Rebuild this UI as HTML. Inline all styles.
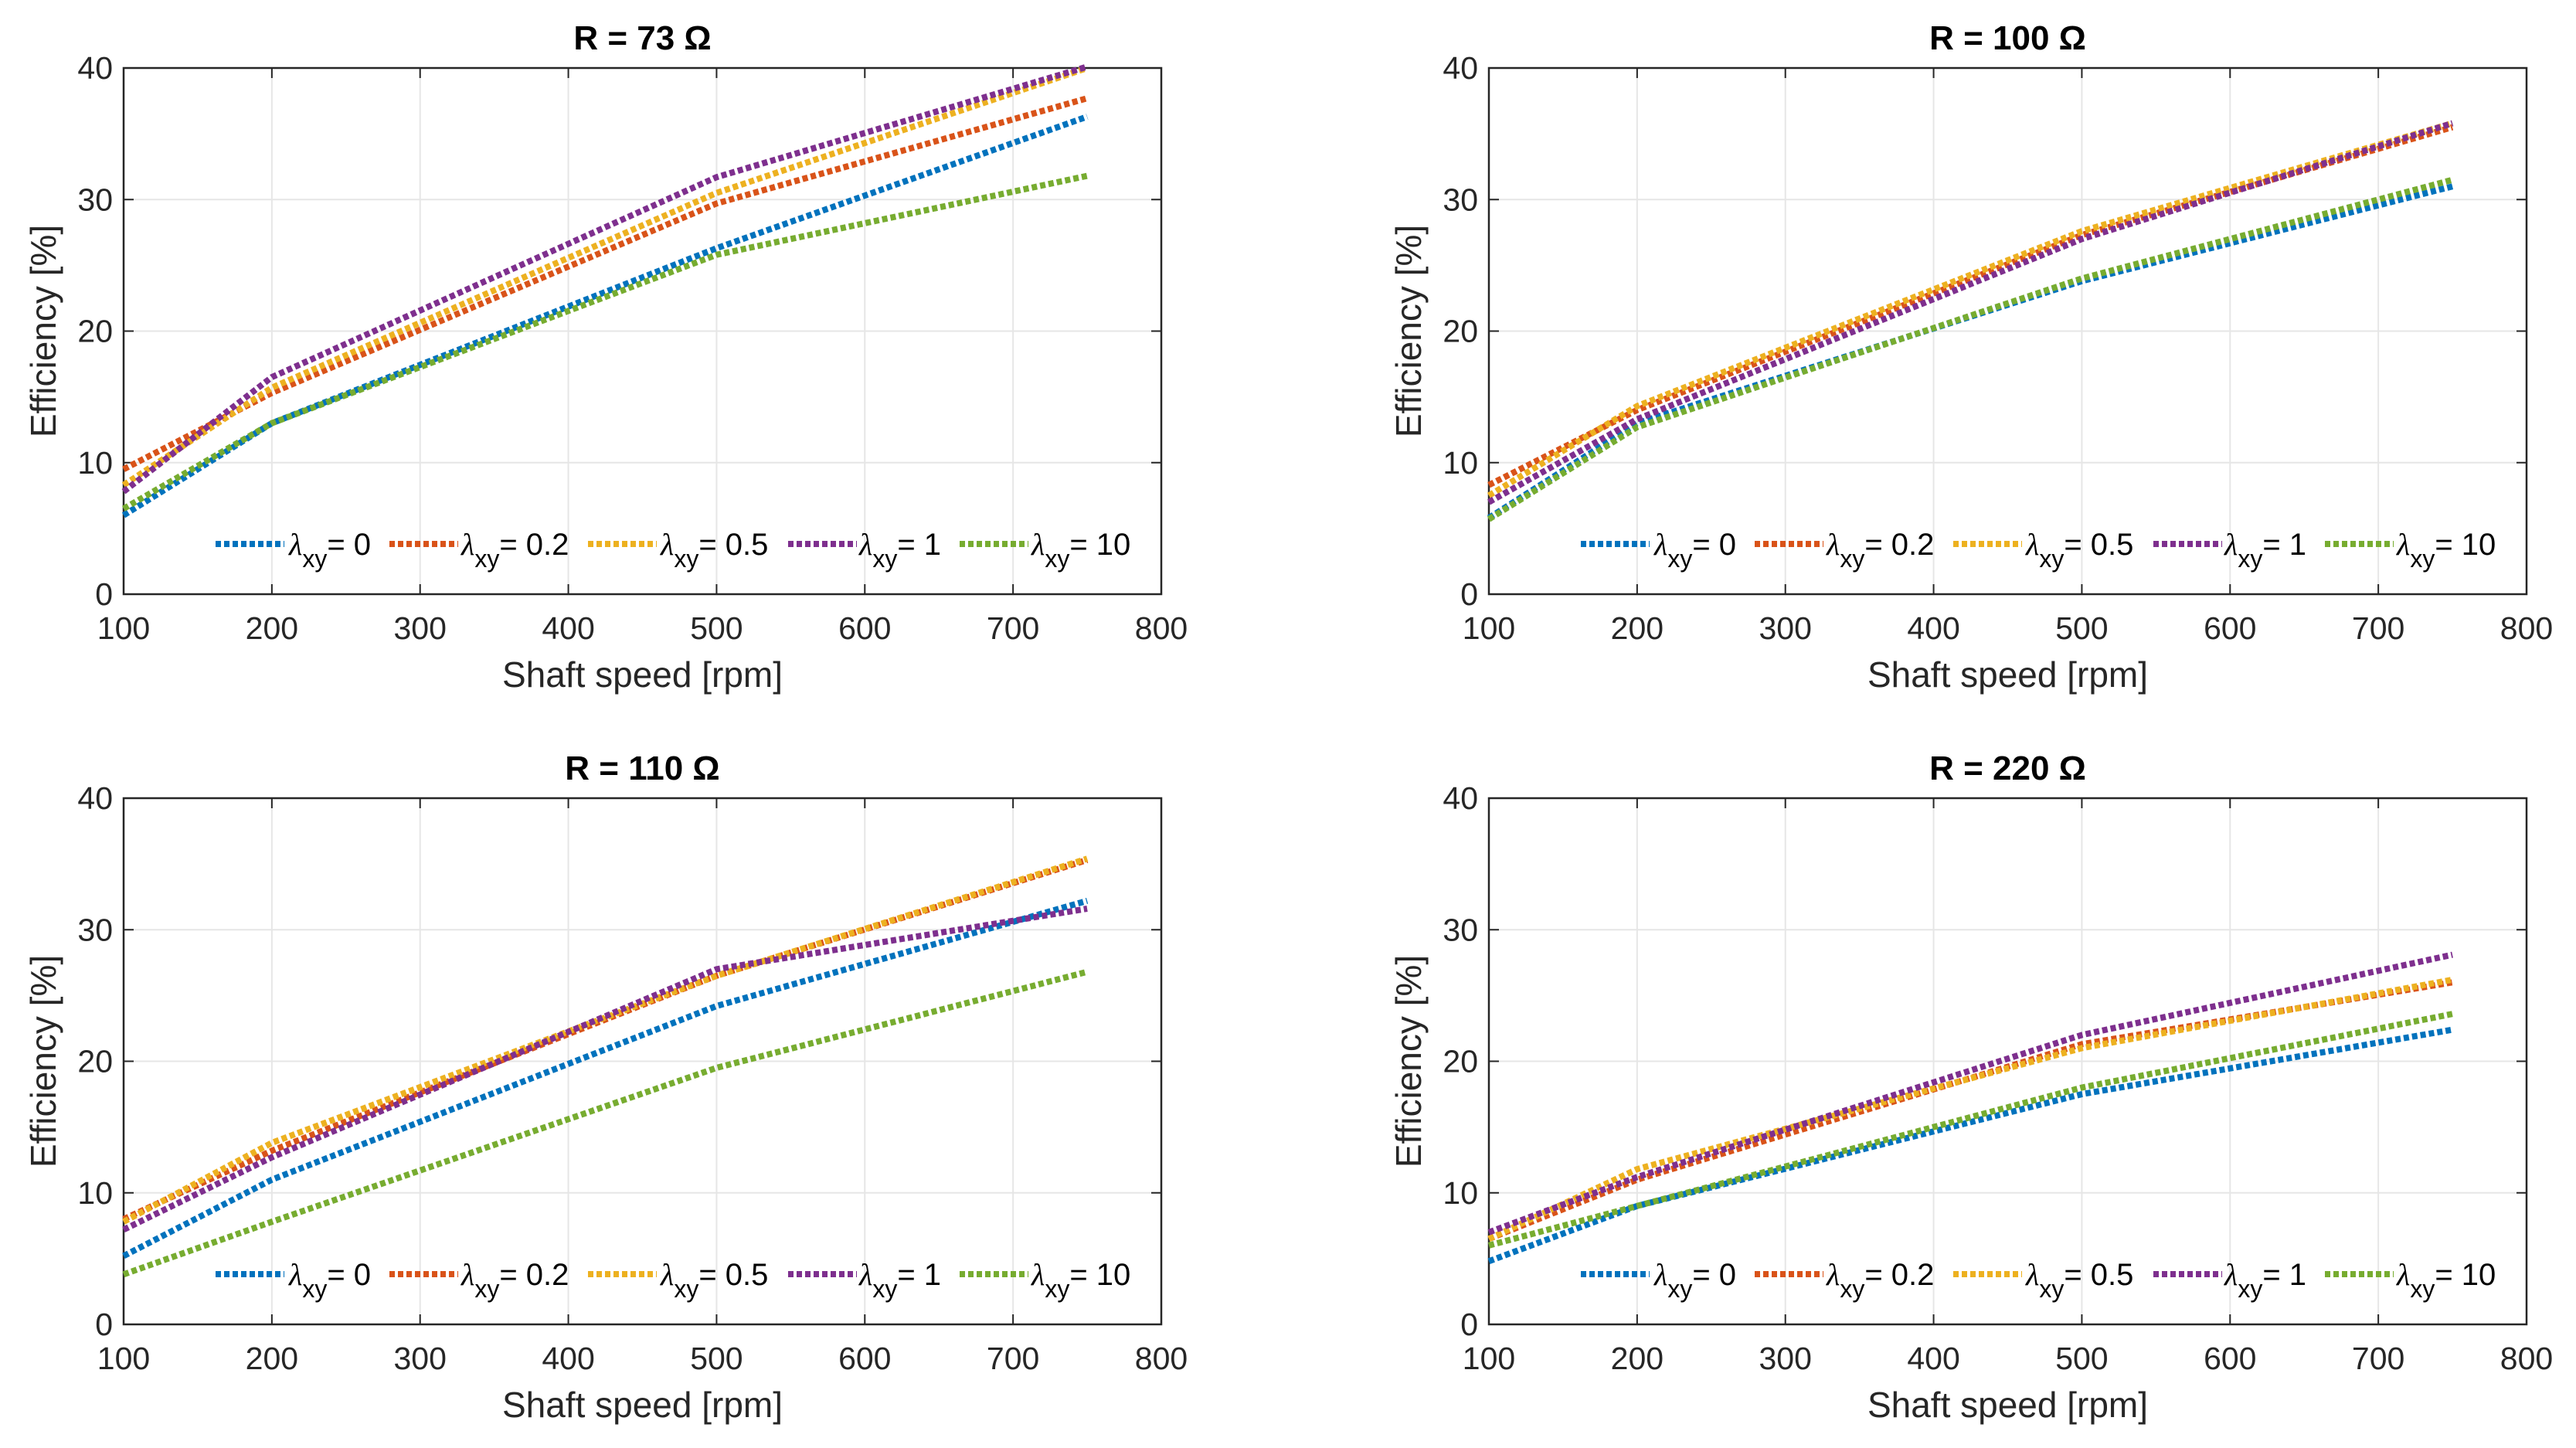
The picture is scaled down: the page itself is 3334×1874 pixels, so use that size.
<!DOCTYPE html>
<html><head><meta charset="utf-8">
<style>
html,body{margin:0;padding:0;background:#fff;}
svg{display:block;font-family:"Liberation Sans",sans-serif;}
</style></head>
<body>
<svg id="fig" width="3334" height="1874" viewBox="0 0 3334 1874" xmlns="http://www.w3.org/2000/svg"></svg>
<script>
const xTicks = [100,200,300,400,500,600,700,800];
const yTicks = [0,10,20,30,40];
const speeds = [100,200,500,750];
const seriesLabels = ["0","0.2","0.5","1","10"];
const colors = ["#0072BD","#D95319","#EDB120","#7E2F8E","#77AC30"];
const titles = ["R = 73 Ω","R = 100 Ω","R = 110 Ω","R = 220 Ω"];
const r73 = [[6,13,26.3,36.3],[9.5,15.3,29.7,37.7],[8.3,15.7,30.5,40],[7.8,16.5,31.7,40.1],[6.5,13,25.8,31.8]];
const r100 = [[5.8,13,23.8,31],[8.3,14,27.3,35.5],[7.5,14.3,27.6,35.8],[7,13.3,27,35.8],[5.7,12.7,24,31.5]];
const r110 = [[5.2,11,24.2,32.2],[8,13.2,26.5,35.3],[7.8,13.8,26.5,35.4],[7.2,12.7,27,31.6],[3.8,7.8,19.5,26.8]];
const r220 = [[4.8,9,17.5,22.4],[6.5,11,21.3,26],[6.5,11.8,21,26.2],[7,11.2,22,28.1],[6,9,18,23.6]];
const panelData = [r73,r100,r110,r220];

const NS="http://www.w3.org/2000/svg";
const svg=document.getElementById('fig');
function mk(tag,attrs,parent){const e=document.createElementNS(NS,tag);for(const k in attrs)e.setAttribute(k,attrs[k]);(parent||svg).appendChild(e);return e;}
const W=1343,H=681;
const origins=[[160,88],[1927,88],[160,1033],[1927,1033]];
const legLineX=[279,504,761,1020,1242];
const legTextX=[374,597,855,1112,1335];

panelData.forEach((data,p)=>{
  const [ox,oy]=origins[p];
  const g=mk('g',{});
  
  
  const sx=v=>ox+(v-100)/(800-100)*W;
  const sy=v=>oy+H-(v/40)*H;
  xTicks.forEach(t=>{const l=mk('line',{x1:sx(t),x2:sx(t),y1:oy,y2:oy+H,stroke:'#e6e6e6','stroke-width':2},g);
    });
  yTicks.forEach(t=>{const l=mk('line',{x1:ox,x2:ox+W,y1:sy(t),y2:sy(t),stroke:'#e6e6e6','stroke-width':2},g);
    });
  const box=mk('rect',{x:ox,y:oy,width:W,height:H,fill:'none',stroke:'#262626','stroke-width':2.5},g);
  
  xTicks.forEach(t=>{
    mk('line',{x1:sx(t),x2:sx(t),y1:oy+H,y2:oy+H-13,stroke:'#262626','stroke-width':2},g);
    mk('line',{x1:sx(t),x2:sx(t),y1:oy,y2:oy+13,stroke:'#262626','stroke-width':2},g);
    const tx=mk('text',{x:sx(t),y:oy+H+58,'text-anchor':'middle','font-size':41,fill:'#262626'},g);
    tx.textContent=t;
    
  });
  yTicks.forEach(t=>{
    mk('line',{x1:ox,x2:ox+13,y1:sy(t),y2:sy(t),stroke:'#262626','stroke-width':2},g);
    mk('line',{x1:ox+W,x2:ox+W-13,y1:sy(t),y2:sy(t),stroke:'#262626','stroke-width':2},g);
    const tx=mk('text',{x:ox-14,y:sy(t)+14,'text-anchor':'end','font-size':41,fill:'#262626'},g);
    tx.textContent=t;
    
  });
  const xl=mk('text',{x:ox+W/2,y:oy+H+120,'text-anchor':'middle','font-size':46,fill:'#262626'},g);
  xl.textContent='Shaft speed [rpm]';
  
  const yl=mk('text',{x:0,y:0,'text-anchor':'middle','font-size':46,fill:'#262626',transform:`translate(${ox-88},${oy+H/2}) rotate(-90)`},g);
  yl.textContent='Efficiency [%]';
  
  const ti=mk('text',{x:ox+W/2,y:oy-24,'text-anchor':'middle','font-size':44,'font-weight':'bold',fill:'#000'},g);
  ti.textContent=titles[p];
  
  data.forEach((vals,s)=>{
    const pts=vals.map((v,i)=>sx(speeds[i])+','+sy(v)).join(' ');
    const pl=mk('polyline',{points:pts,fill:'none',stroke:colors[s],'stroke-width':8,'stroke-dasharray':'7 4'},g);
    
    
  });
  const ly=oy+H-65;
  seriesLabels.forEach((lab,s)=>{
    const lg=mk('g',{},g);
    
    
    mk('line',{x1:ox-160+legLineX[s],x2:ox-160+legLineX[s]+89,y1:ly,y2:ly,stroke:colors[s],'stroke-width':8,'stroke-dasharray':'7 4'},lg);
    const t=mk('text',{x:ox-160+legTextX[s],y:ly+14,'font-size':40,fill:'#000'},lg);
    t.innerHTML=`<tspan font-family="Liberation Serif" font-style="italic">λ</tspan><tspan font-size="32" dy="16">xy</tspan><tspan dy="-16">= ${lab}</tspan>`;
  });
});
</script>
</body></html>
